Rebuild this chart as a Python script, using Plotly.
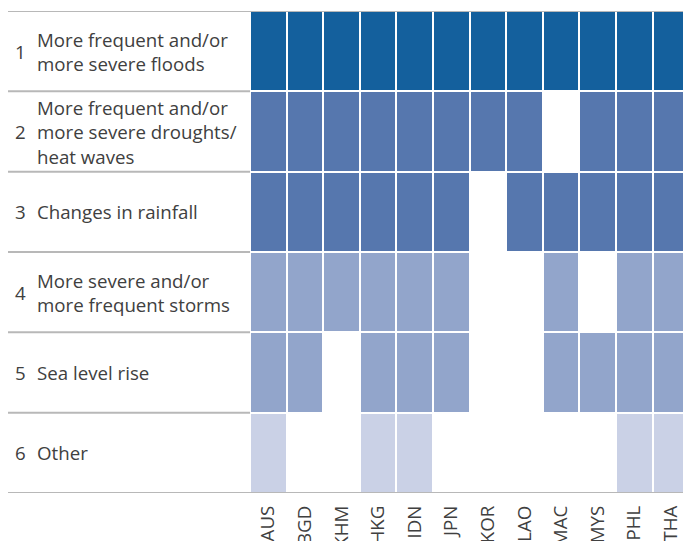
import plotly.graph_objects as go

# columns (economies) and rows (climate risks)
countries = ["AUS", "BGD", "KHM", "HKG", "IDN", "JPN", "KOR", "LAO", "MAC", "MYS", "PHL", "THA"]
row_numbers = ["1", "2", "3", "4", "5", "6"]
row_labels = [
    "More frequent and/or<br>more severe floods",
    "More frequent and/or<br>more severe droughts/<br>heat waves",
    "Changes in rainfall",
    "More severe and/or<br>more frequent storms",
    "Sea level rise",
    "Other",
]

# 1 = economy flagged this risk, 0 = not flagged
floods    = [1, 1, 1, 1, 1, 1, 1, 1, 1, 1, 1, 1]
droughts  = [1, 1, 1, 1, 1, 1, 1, 1, 0, 1, 1, 1]
rainfall  = [1, 1, 1, 1, 1, 1, 0, 1, 1, 1, 1, 1]
storms    = [1, 1, 1, 1, 1, 1, 0, 0, 1, 0, 1, 1]
sea_level = [1, 1, 0, 1, 1, 1, 0, 0, 1, 1, 1, 1]
other     = [1, 0, 0, 1, 1, 0, 0, 0, 0, 0, 1, 1]

# shade level used for each row (4 = darkest)
row_shade = [4, 3, 3, 2, 2, 1]

rows = [floods, droughts, rainfall, storms, sea_level, other]
z = [[shade if flag else None for flag in row] for row, shade in zip(rows, row_shade)]

shades = ["#CAD1E6", "#92A5CB", "#5677AE", "#14609D"]
colorscale = []
for i, c in enumerate(shades):
    colorscale.append([i / 4, c])
    colorscale.append([(i + 1) / 4, c])

W, H = 683, 541
L, R, T, B = 250, 0, 11, 48
pw = W - L - R


def px_x(p):
    # pixel position -> paper x
    return (p - L) / pw


TEXT = "#404040"
FONT = "'Open Sans', 'Noto Sans', sans-serif"
FS = 18.7

fig = go.Figure(go.Heatmap(
    z=z,
    x=list(range(len(countries))),
    y=list(range(len(row_numbers))),
    colorscale=colorscale,
    zmin=0.5, zmax=4.5,
    showscale=False,
    xgap=2, ygap=2,
    hoverinfo="skip",
))

annotations = []
for i, (num, lab) in enumerate(zip(row_numbers, row_labels)):
    annotations.append(dict(
        x=px_x(13), xref="paper", y=i, yref="y", text=num, showarrow=False,
        xanchor="left", yanchor="middle", font=dict(size=FS, color=TEXT, family=FONT),
    ))
    annotations.append(dict(
        x=px_x(35), xref="paper", y=i, yref="y", text=lab, showarrow=False,
        xanchor="left", yanchor="middle", align="left",
        font=dict(size=FS, color=TEXT, family=FONT),
    ))

shapes = []
line_style = dict(color="#B8B8B8", width=2)
# top and bottom rules run the full width
for yv in [-0.5, len(row_numbers) - 0.5]:
    shapes.append(dict(type="line", xref="paper", yref="y", x0=px_x(8), x1=1,
                       y0=yv, y1=yv, line=line_style))
# inner rules only under the label column
for k in range(1, len(row_numbers)):
    shapes.append(dict(type="line", xref="paper", yref="y", x0=px_x(8), x1=0,
                       y0=k - 0.5, y1=k - 0.5, line=line_style))

fig.update_layout(
    width=W, height=H,
    margin=dict(l=L, r=R, t=T, b=B),
    paper_bgcolor="white", plot_bgcolor="white",
    font=dict(family=FONT, color=TEXT),
    annotations=annotations,
    shapes=shapes,
    xaxis=dict(
        range=[-0.5, 11.33],
        tickmode="array",
        tickvals=list(range(len(countries))),
        ticktext=countries,
        tickangle=-90,
        tickfont=dict(size=FS, color=TEXT, family=FONT),
        ticklabelstandoff=8,
        showgrid=False, zeroline=False, showline=False,
        ticks="", automargin=False,
    ),
    yaxis=dict(
        range=[len(row_numbers) - 0.5, -0.5],
        showticklabels=False,
        showgrid=False, zeroline=False, showline=False,
        ticks="", automargin=False,
    ),
)

fig.write_html(
    "out.html",
    config={"displayModeBar": False},
    post_script="document.body.style.margin='0';document.body.style.overflow='hidden';",
)
